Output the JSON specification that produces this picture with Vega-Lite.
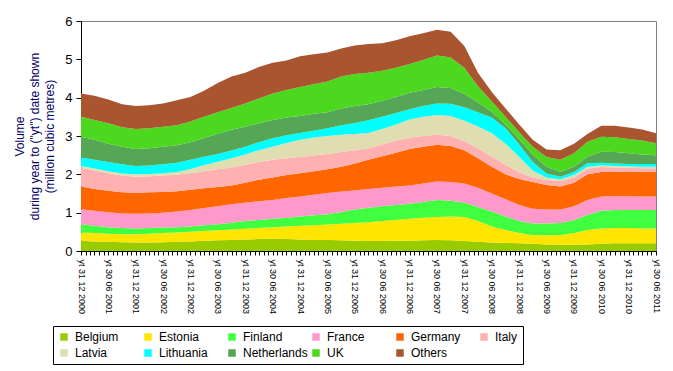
{
"$schema": "https://vega.github.io/schema/vega-lite/v6.json",
"width": 575, "height": 230,
"autosize": {"type": "none"},
"padding": {"left": 81, "top": 21, "right": 17, "bottom": 120},
"background": "white",
"config": {"font": "Liberation Sans", "view": {"stroke": "#808080", "strokeWidth": 1}},
"datasets": {
"order": [{"c":"Belgium","k":1},{"c":"Estonia","k":2},{"c":"Finland","k":3},{"c":"France","k":4},{"c":"Germany","k":5},{"c":"Italy","k":6},{"c":"Latvia","k":7},{"c":"Lithuania","k":8},{"c":"Netherlands","k":9},{"c":"UK","k":10},{"c":"Others","k":11}],
"vol": [
{"d":"2000-12-01","c":"Belgium","v":0.27},{"d":"2000-12-01","c":"Estonia","v":0.21},{"d":"2000-12-01","c":"Finland","v":0.22},{"d":"2000-12-01","c":"France","v":0.39},{"d":"2000-12-01","c":"Germany","v":0.59},{"d":"2000-12-01","c":"Italy","v":0.49},{"d":"2000-12-01","c":"Latvia","v":0.05},{"d":"2000-12-01","c":"Lithuania","v":0.22},{"d":"2000-12-01","c":"Netherlands","v":0.54},{"d":"2000-12-01","c":"UK","v":0.52},{"d":"2000-12-01","c":"Others","v":0.61},
{"d":"2001-03-01","c":"Belgium","v":0.25},{"d":"2001-03-01","c":"Estonia","v":0.22},{"d":"2001-03-01","c":"Finland","v":0.19},{"d":"2001-03-01","c":"France","v":0.39},{"d":"2001-03-01","c":"Germany","v":0.57},{"d":"2001-03-01","c":"Italy","v":0.48},{"d":"2001-03-01","c":"Latvia","v":0.05},{"d":"2001-03-01","c":"Lithuania","v":0.23},{"d":"2001-03-01","c":"Netherlands","v":0.52},{"d":"2001-03-01","c":"UK","v":0.52},{"d":"2001-03-01","c":"Others","v":0.63},
{"d":"2001-06-01","c":"Belgium","v":0.24},{"d":"2001-06-01","c":"Estonia","v":0.21},{"d":"2001-06-01","c":"Finland","v":0.17},{"d":"2001-06-01","c":"France","v":0.39},{"d":"2001-06-01","c":"Germany","v":0.56},{"d":"2001-06-01","c":"Italy","v":0.46},{"d":"2001-06-01","c":"Latvia","v":0.05},{"d":"2001-06-01","c":"Lithuania","v":0.24},{"d":"2001-06-01","c":"Netherlands","v":0.48},{"d":"2001-06-01","c":"UK","v":0.53},{"d":"2001-06-01","c":"Others","v":0.62},
{"d":"2001-09-01","c":"Belgium","v":0.23},{"d":"2001-09-01","c":"Estonia","v":0.21},{"d":"2001-09-01","c":"Finland","v":0.16},{"d":"2001-09-01","c":"France","v":0.38},{"d":"2001-09-01","c":"Germany","v":0.55},{"d":"2001-09-01","c":"Italy","v":0.44},{"d":"2001-09-01","c":"Latvia","v":0.05},{"d":"2001-09-01","c":"Lithuania","v":0.24},{"d":"2001-09-01","c":"Netherlands","v":0.46},{"d":"2001-09-01","c":"UK","v":0.51},{"d":"2001-09-01","c":"Others","v":0.60},
{"d":"2001-12-01","c":"Belgium","v":0.22},{"d":"2001-12-01","c":"Estonia","v":0.22},{"d":"2001-12-01","c":"Finland","v":0.15},{"d":"2001-12-01","c":"France","v":0.38},{"d":"2001-12-01","c":"Germany","v":0.55},{"d":"2001-12-01","c":"Italy","v":0.42},{"d":"2001-12-01","c":"Latvia","v":0.06},{"d":"2001-12-01","c":"Lithuania","v":0.22},{"d":"2001-12-01","c":"Netherlands","v":0.44},{"d":"2001-12-01","c":"UK","v":0.52},{"d":"2001-12-01","c":"Others","v":0.60},
{"d":"2002-03-01","c":"Belgium","v":0.22},{"d":"2002-03-01","c":"Estonia","v":0.23},{"d":"2002-03-01","c":"Finland","v":0.15},{"d":"2002-03-01","c":"France","v":0.38},{"d":"2002-03-01","c":"Germany","v":0.55},{"d":"2002-03-01","c":"Italy","v":0.42},{"d":"2002-03-01","c":"Latvia","v":0.06},{"d":"2002-03-01","c":"Lithuania","v":0.22},{"d":"2002-03-01","c":"Netherlands","v":0.45},{"d":"2002-03-01","c":"UK","v":0.52},{"d":"2002-03-01","c":"Others","v":0.60},
{"d":"2002-06-01","c":"Belgium","v":0.23},{"d":"2002-06-01","c":"Estonia","v":0.24},{"d":"2002-06-01","c":"Finland","v":0.14},{"d":"2002-06-01","c":"France","v":0.39},{"d":"2002-06-01","c":"Germany","v":0.54},{"d":"2002-06-01","c":"Italy","v":0.43},{"d":"2002-06-01","c":"Latvia","v":0.06},{"d":"2002-06-01","c":"Lithuania","v":0.23},{"d":"2002-06-01","c":"Netherlands","v":0.46},{"d":"2002-06-01","c":"UK","v":0.52},{"d":"2002-06-01","c":"Others","v":0.61},
{"d":"2002-09-01","c":"Belgium","v":0.24},{"d":"2002-09-01","c":"Estonia","v":0.24},{"d":"2002-09-01","c":"Finland","v":0.14},{"d":"2002-09-01","c":"France","v":0.41},{"d":"2002-09-01","c":"Germany","v":0.53},{"d":"2002-09-01","c":"Italy","v":0.43},{"d":"2002-09-01","c":"Latvia","v":0.07},{"d":"2002-09-01","c":"Lithuania","v":0.24},{"d":"2002-09-01","c":"Netherlands","v":0.46},{"d":"2002-09-01","c":"UK","v":0.52},{"d":"2002-09-01","c":"Others","v":0.65},
{"d":"2002-12-01","c":"Belgium","v":0.25},{"d":"2002-12-01","c":"Estonia","v":0.25},{"d":"2002-12-01","c":"Finland","v":0.14},{"d":"2002-12-01","c":"France","v":0.43},{"d":"2002-12-01","c":"Germany","v":0.53},{"d":"2002-12-01","c":"Italy","v":0.43},{"d":"2002-12-01","c":"Latvia","v":0.11},{"d":"2002-12-01","c":"Lithuania","v":0.24},{"d":"2002-12-01","c":"Netherlands","v":0.46},{"d":"2002-12-01","c":"UK","v":0.54},{"d":"2002-12-01","c":"Others","v":0.64},
{"d":"2003-03-01","c":"Belgium","v":0.27},{"d":"2003-03-01","c":"Estonia","v":0.25},{"d":"2003-03-01","c":"Finland","v":0.15},{"d":"2003-03-01","c":"France","v":0.45},{"d":"2003-03-01","c":"Germany","v":0.52},{"d":"2003-03-01","c":"Italy","v":0.44},{"d":"2003-03-01","c":"Latvia","v":0.16},{"d":"2003-03-01","c":"Lithuania","v":0.22},{"d":"2003-03-01","c":"Netherlands","v":0.49},{"d":"2003-03-01","c":"UK","v":0.55},{"d":"2003-03-01","c":"Others","v":0.68},
{"d":"2003-06-01","c":"Belgium","v":0.28},{"d":"2003-06-01","c":"Estonia","v":0.26},{"d":"2003-06-01","c":"Finland","v":0.16},{"d":"2003-06-01","c":"France","v":0.47},{"d":"2003-06-01","c":"Germany","v":0.50},{"d":"2003-06-01","c":"Italy","v":0.46},{"d":"2003-06-01","c":"Latvia","v":0.20},{"d":"2003-06-01","c":"Lithuania","v":0.20},{"d":"2003-06-01","c":"Netherlands","v":0.53},{"d":"2003-06-01","c":"UK","v":0.56},{"d":"2003-06-01","c":"Others","v":0.76},
{"d":"2003-09-01","c":"Belgium","v":0.29},{"d":"2003-09-01","c":"Estonia","v":0.27},{"d":"2003-09-01","c":"Finland","v":0.18},{"d":"2003-09-01","c":"France","v":0.48},{"d":"2003-09-01","c":"Germany","v":0.49},{"d":"2003-09-01","c":"Italy","v":0.47},{"d":"2003-09-01","c":"Latvia","v":0.24},{"d":"2003-09-01","c":"Lithuania","v":0.20},{"d":"2003-09-01","c":"Netherlands","v":0.54},{"d":"2003-09-01","c":"UK","v":0.57},{"d":"2003-09-01","c":"Others","v":0.82},
{"d":"2003-12-01","c":"Belgium","v":0.30},{"d":"2003-12-01","c":"Estonia","v":0.28},{"d":"2003-12-01","c":"Finland","v":0.20},{"d":"2003-12-01","c":"France","v":0.48},{"d":"2003-12-01","c":"Germany","v":0.52},{"d":"2003-12-01","c":"Italy","v":0.47},{"d":"2003-12-01","c":"Latvia","v":0.27},{"d":"2003-12-01","c":"Lithuania","v":0.20},{"d":"2003-12-01","c":"Netherlands","v":0.52},{"d":"2003-12-01","c":"UK","v":0.61},{"d":"2003-12-01","c":"Others","v":0.80},
{"d":"2004-03-01","c":"Belgium","v":0.31},{"d":"2004-03-01","c":"Estonia","v":0.29},{"d":"2004-03-01","c":"Finland","v":0.21},{"d":"2004-03-01","c":"France","v":0.49},{"d":"2004-03-01","c":"Germany","v":0.56},{"d":"2004-03-01","c":"Italy","v":0.46},{"d":"2004-03-01","c":"Latvia","v":0.31},{"d":"2004-03-01","c":"Lithuania","v":0.21},{"d":"2004-03-01","c":"Netherlands","v":0.49},{"d":"2004-03-01","c":"UK","v":0.65},{"d":"2004-03-01","c":"Others","v":0.82},
{"d":"2004-06-01","c":"Belgium","v":0.32},{"d":"2004-06-01","c":"Estonia","v":0.30},{"d":"2004-06-01","c":"Finland","v":0.22},{"d":"2004-06-01","c":"France","v":0.49},{"d":"2004-06-01","c":"Germany","v":0.59},{"d":"2004-06-01","c":"Italy","v":0.46},{"d":"2004-06-01","c":"Latvia","v":0.34},{"d":"2004-06-01","c":"Lithuania","v":0.22},{"d":"2004-06-01","c":"Netherlands","v":0.48},{"d":"2004-06-01","c":"UK","v":0.69},{"d":"2004-06-01","c":"Others","v":0.80},
{"d":"2004-09-01","c":"Belgium","v":0.31},{"d":"2004-09-01","c":"Estonia","v":0.33},{"d":"2004-09-01","c":"Finland","v":0.23},{"d":"2004-09-01","c":"France","v":0.51},{"d":"2004-09-01","c":"Germany","v":0.60},{"d":"2004-09-01","c":"Italy","v":0.44},{"d":"2004-09-01","c":"Latvia","v":0.40},{"d":"2004-09-01","c":"Lithuania","v":0.20},{"d":"2004-09-01","c":"Netherlands","v":0.46},{"d":"2004-09-01","c":"UK","v":0.72},{"d":"2004-09-01","c":"Others","v":0.77},
{"d":"2004-12-01","c":"Belgium","v":0.30},{"d":"2004-12-01","c":"Estonia","v":0.36},{"d":"2004-12-01","c":"Finland","v":0.24},{"d":"2004-12-01","c":"France","v":0.52},{"d":"2004-12-01","c":"Germany","v":0.61},{"d":"2004-12-01","c":"Italy","v":0.42},{"d":"2004-12-01","c":"Latvia","v":0.45},{"d":"2004-12-01","c":"Lithuania","v":0.18},{"d":"2004-12-01","c":"Netherlands","v":0.44},{"d":"2004-12-01","c":"UK","v":0.76},{"d":"2004-12-01","c":"Others","v":0.80},
{"d":"2005-03-01","c":"Belgium","v":0.29},{"d":"2005-03-01","c":"Estonia","v":0.38},{"d":"2005-03-01","c":"Finland","v":0.26},{"d":"2005-03-01","c":"France","v":0.54},{"d":"2005-03-01","c":"Germany","v":0.61},{"d":"2005-03-01","c":"Italy","v":0.41},{"d":"2005-03-01","c":"Latvia","v":0.47},{"d":"2005-03-01","c":"Lithuania","v":0.18},{"d":"2005-03-01","c":"Netherlands","v":0.44},{"d":"2005-03-01","c":"UK","v":0.77},{"d":"2005-03-01","c":"Others","v":0.78},
{"d":"2005-06-01","c":"Belgium","v":0.29},{"d":"2005-06-01","c":"Estonia","v":0.40},{"d":"2005-06-01","c":"Finland","v":0.27},{"d":"2005-06-01","c":"France","v":0.55},{"d":"2005-06-01","c":"Germany","v":0.62},{"d":"2005-06-01","c":"Italy","v":0.40},{"d":"2005-06-01","c":"Latvia","v":0.47},{"d":"2005-06-01","c":"Lithuania","v":0.20},{"d":"2005-06-01","c":"Netherlands","v":0.42},{"d":"2005-06-01","c":"UK","v":0.80},{"d":"2005-06-01","c":"Others","v":0.76},
{"d":"2005-09-01","c":"Belgium","v":0.28},{"d":"2005-09-01","c":"Estonia","v":0.43},{"d":"2005-09-01","c":"Finland","v":0.31},{"d":"2005-09-01","c":"France","v":0.53},{"d":"2005-09-01","c":"Germany","v":0.65},{"d":"2005-09-01","c":"Italy","v":0.38},{"d":"2005-09-01","c":"Latvia","v":0.45},{"d":"2005-09-01","c":"Lithuania","v":0.25},{"d":"2005-09-01","c":"Netherlands","v":0.44},{"d":"2005-09-01","c":"UK","v":0.83},{"d":"2005-09-01","c":"Others","v":0.73},
{"d":"2005-12-01","c":"Belgium","v":0.27},{"d":"2005-12-01","c":"Estonia","v":0.46},{"d":"2005-12-01","c":"Finland","v":0.35},{"d":"2005-12-01","c":"France","v":0.50},{"d":"2005-12-01","c":"Germany","v":0.70},{"d":"2005-12-01","c":"Italy","v":0.35},{"d":"2005-12-01","c":"Latvia","v":0.42},{"d":"2005-12-01","c":"Lithuania","v":0.29},{"d":"2005-12-01","c":"Netherlands","v":0.44},{"d":"2005-12-01","c":"UK","v":0.84},{"d":"2005-12-01","c":"Others","v":0.74},
{"d":"2006-03-01","c":"Belgium","v":0.26},{"d":"2006-03-01","c":"Estonia","v":0.49},{"d":"2006-03-01","c":"Finland","v":0.38},{"d":"2006-03-01","c":"France","v":0.49},{"d":"2006-03-01","c":"Germany","v":0.76},{"d":"2006-03-01","c":"Italy","v":0.30},{"d":"2006-03-01","c":"Latvia","v":0.40},{"d":"2006-03-01","c":"Lithuania","v":0.33},{"d":"2006-03-01","c":"Netherlands","v":0.42},{"d":"2006-03-01","c":"UK","v":0.82},{"d":"2006-03-01","c":"Others","v":0.75},
{"d":"2006-06-01","c":"Belgium","v":0.26},{"d":"2006-06-01","c":"Estonia","v":0.52},{"d":"2006-06-01","c":"Finland","v":0.39},{"d":"2006-06-01","c":"France","v":0.48},{"d":"2006-06-01","c":"Germany","v":0.82},{"d":"2006-06-01","c":"Italy","v":0.31},{"d":"2006-06-01","c":"Latvia","v":0.40},{"d":"2006-06-01","c":"Lithuania","v":0.32},{"d":"2006-06-01","c":"Netherlands","v":0.42},{"d":"2006-06-01","c":"UK","v":0.78},{"d":"2006-06-01","c":"Others","v":0.72},
{"d":"2006-09-01","c":"Belgium","v":0.27},{"d":"2006-09-01","c":"Estonia","v":0.54},{"d":"2006-09-01","c":"Finland","v":0.39},{"d":"2006-09-01","c":"France","v":0.48},{"d":"2006-09-01","c":"Germany","v":0.88},{"d":"2006-09-01","c":"Italy","v":0.32},{"d":"2006-09-01","c":"Latvia","v":0.42},{"d":"2006-09-01","c":"Lithuania","v":0.30},{"d":"2006-09-01","c":"Netherlands","v":0.42},{"d":"2006-09-01","c":"UK","v":0.76},{"d":"2006-09-01","c":"Others","v":0.72},
{"d":"2006-12-01","c":"Belgium","v":0.27},{"d":"2006-12-01","c":"Estonia","v":0.57},{"d":"2006-12-01","c":"Finland","v":0.39},{"d":"2006-12-01","c":"France","v":0.48},{"d":"2006-12-01","c":"Germany","v":0.95},{"d":"2006-12-01","c":"Italy","v":0.30},{"d":"2006-12-01","c":"Latvia","v":0.47},{"d":"2006-12-01","c":"Lithuania","v":0.27},{"d":"2006-12-01","c":"Netherlands","v":0.43},{"d":"2006-12-01","c":"UK","v":0.75},{"d":"2006-12-01","c":"Others","v":0.72},
{"d":"2007-03-01","c":"Belgium","v":0.28},{"d":"2007-03-01","c":"Estonia","v":0.59},{"d":"2007-03-01","c":"Finland","v":0.41},{"d":"2007-03-01","c":"France","v":0.48},{"d":"2007-03-01","c":"Germany","v":0.96},{"d":"2007-03-01","c":"Italy","v":0.28},{"d":"2007-03-01","c":"Latvia","v":0.50},{"d":"2007-03-01","c":"Lithuania","v":0.28},{"d":"2007-03-01","c":"Netherlands","v":0.42},{"d":"2007-03-01","c":"UK","v":0.78},{"d":"2007-03-01","c":"Others","v":0.70},
{"d":"2007-06-01","c":"Belgium","v":0.29},{"d":"2007-06-01","c":"Estonia","v":0.60},{"d":"2007-06-01","c":"Finland","v":0.44},{"d":"2007-06-01","c":"France","v":0.48},{"d":"2007-06-01","c":"Germany","v":0.96},{"d":"2007-06-01","c":"Italy","v":0.26},{"d":"2007-06-01","c":"Latvia","v":0.52},{"d":"2007-06-01","c":"Lithuania","v":0.30},{"d":"2007-06-01","c":"Netherlands","v":0.43},{"d":"2007-06-01","c":"UK","v":0.82},{"d":"2007-06-01","c":"Others","v":0.67},
{"d":"2007-09-01","c":"Belgium","v":0.28},{"d":"2007-09-01","c":"Estonia","v":0.62},{"d":"2007-09-01","c":"Finland","v":0.41},{"d":"2007-09-01","c":"France","v":0.49},{"d":"2007-09-01","c":"Germany","v":0.94},{"d":"2007-09-01","c":"Italy","v":0.26},{"d":"2007-09-01","c":"Latvia","v":0.52},{"d":"2007-09-01","c":"Lithuania","v":0.32},{"d":"2007-09-01","c":"Netherlands","v":0.41},{"d":"2007-09-01","c":"UK","v":0.80},{"d":"2007-09-01","c":"Others","v":0.67},
{"d":"2007-12-01","c":"Belgium","v":0.26},{"d":"2007-12-01","c":"Estonia","v":0.63},{"d":"2007-12-01","c":"Finland","v":0.37},{"d":"2007-12-01","c":"France","v":0.50},{"d":"2007-12-01","c":"Germany","v":0.87},{"d":"2007-12-01","c":"Italy","v":0.24},{"d":"2007-12-01","c":"Latvia","v":0.53},{"d":"2007-12-01","c":"Lithuania","v":0.35},{"d":"2007-12-01","c":"Netherlands","v":0.35},{"d":"2007-12-01","c":"UK","v":0.68},{"d":"2007-12-01","c":"Others","v":0.57},
{"d":"2008-03-01","c":"Belgium","v":0.24},{"d":"2008-03-01","c":"Estonia","v":0.54},{"d":"2008-03-01","c":"Finland","v":0.37},{"d":"2008-03-01","c":"France","v":0.50},{"d":"2008-03-01","c":"Germany","v":0.77},{"d":"2008-03-01","c":"Italy","v":0.26},{"d":"2008-03-01","c":"Latvia","v":0.57},{"d":"2008-03-01","c":"Lithuania","v":0.37},{"d":"2008-03-01","c":"Netherlands","v":0.26},{"d":"2008-03-01","c":"UK","v":0.42},{"d":"2008-03-01","c":"Others","v":0.35},
{"d":"2008-06-01","c":"Belgium","v":0.22},{"d":"2008-06-01","c":"Estonia","v":0.42},{"d":"2008-06-01","c":"Finland","v":0.39},{"d":"2008-06-01","c":"France","v":0.47},{"d":"2008-06-01","c":"Germany","v":0.70},{"d":"2008-06-01","c":"Italy","v":0.26},{"d":"2008-06-01","c":"Latvia","v":0.61},{"d":"2008-06-01","c":"Lithuania","v":0.41},{"d":"2008-06-01","c":"Netherlands","v":0.15},{"d":"2008-06-01","c":"UK","v":0.27},{"d":"2008-06-01","c":"Others","v":0.25},
{"d":"2008-09-01","c":"Belgium","v":0.21},{"d":"2008-09-01","c":"Estonia","v":0.34},{"d":"2008-09-01","c":"Finland","v":0.35},{"d":"2008-09-01","c":"France","v":0.45},{"d":"2008-09-01","c":"Germany","v":0.65},{"d":"2008-09-01","c":"Italy","v":0.25},{"d":"2008-09-01","c":"Latvia","v":0.55},{"d":"2008-09-01","c":"Lithuania","v":0.40},{"d":"2008-09-01","c":"Netherlands","v":0.10},{"d":"2008-09-01","c":"UK","v":0.20},{"d":"2008-09-01","c":"Others","v":0.22},
{"d":"2008-12-01","c":"Belgium","v":0.20},{"d":"2008-12-01","c":"Estonia","v":0.27},{"d":"2008-12-01","c":"Finland","v":0.31},{"d":"2008-12-01","c":"France","v":0.42},{"d":"2008-12-01","c":"Germany","v":0.68},{"d":"2008-12-01","c":"Italy","v":0.17},{"d":"2008-12-01","c":"Latvia","v":0.40},{"d":"2008-12-01","c":"Lithuania","v":0.33},{"d":"2008-12-01","c":"Netherlands","v":0.14},{"d":"2008-12-01","c":"UK","v":0.18},{"d":"2008-12-01","c":"Others","v":0.20},
{"d":"2009-03-01","c":"Belgium","v":0.19},{"d":"2009-03-01","c":"Estonia","v":0.23},{"d":"2009-03-01","c":"Finland","v":0.30},{"d":"2009-03-01","c":"France","v":0.38},{"d":"2009-03-01","c":"Germany","v":0.70},{"d":"2009-03-01","c":"Italy","v":0.12},{"d":"2009-03-01","c":"Latvia","v":0.18},{"d":"2009-03-01","c":"Lithuania","v":0.22},{"d":"2009-03-01","c":"Netherlands","v":0.20},{"d":"2009-03-01","c":"UK","v":0.20},{"d":"2009-03-01","c":"Others","v":0.18},
{"d":"2009-06-01","c":"Belgium","v":0.17},{"d":"2009-06-01","c":"Estonia","v":0.24},{"d":"2009-06-01","c":"Finland","v":0.31},{"d":"2009-06-01","c":"France","v":0.36},{"d":"2009-06-01","c":"Germany","v":0.64},{"d":"2009-06-01","c":"Italy","v":0.13},{"d":"2009-06-01","c":"Latvia","v":0.07},{"d":"2009-06-01","c":"Lithuania","v":0.10},{"d":"2009-06-01","c":"Netherlands","v":0.18},{"d":"2009-06-01","c":"UK","v":0.25},{"d":"2009-06-01","c":"Others","v":0.20},
{"d":"2009-09-01","c":"Belgium","v":0.16},{"d":"2009-09-01","c":"Estonia","v":0.26},{"d":"2009-09-01","c":"Finland","v":0.31},{"d":"2009-09-01","c":"France","v":0.35},{"d":"2009-09-01","c":"Germany","v":0.60},{"d":"2009-09-01","c":"Italy","v":0.14},{"d":"2009-09-01","c":"Latvia","v":0.05},{"d":"2009-09-01","c":"Lithuania","v":0.07},{"d":"2009-09-01","c":"Netherlands","v":0.13},{"d":"2009-09-01","c":"UK","v":0.31},{"d":"2009-09-01","c":"Others","v":0.25},
{"d":"2009-12-01","c":"Belgium","v":0.16},{"d":"2009-12-01","c":"Estonia","v":0.30},{"d":"2009-12-01","c":"Finland","v":0.34},{"d":"2009-12-01","c":"France","v":0.37},{"d":"2009-12-01","c":"Germany","v":0.61},{"d":"2009-12-01","c":"Italy","v":0.14},{"d":"2009-12-01","c":"Latvia","v":0.06},{"d":"2009-12-01","c":"Lithuania","v":0.08},{"d":"2009-12-01","c":"Netherlands","v":0.14},{"d":"2009-12-01","c":"UK","v":0.35},{"d":"2009-12-01","c":"Others","v":0.25},
{"d":"2010-03-01","c":"Belgium","v":0.17},{"d":"2010-03-01","c":"Estonia","v":0.38},{"d":"2010-03-01","c":"Finland","v":0.39},{"d":"2010-03-01","c":"France","v":0.39},{"d":"2010-03-01","c":"Germany","v":0.67},{"d":"2010-03-01","c":"Italy","v":0.15},{"d":"2010-03-01","c":"Latvia","v":0.05},{"d":"2010-03-01","c":"Lithuania","v":0.09},{"d":"2010-03-01","c":"Netherlands","v":0.17},{"d":"2010-03-01","c":"UK","v":0.39},{"d":"2010-03-01","c":"Others","v":0.20},
{"d":"2010-06-01","c":"Belgium","v":0.19},{"d":"2010-06-01","c":"Estonia","v":0.40},{"d":"2010-06-01","c":"Finland","v":0.46},{"d":"2010-06-01","c":"France","v":0.37},{"d":"2010-06-01","c":"Germany","v":0.64},{"d":"2010-06-01","c":"Italy","v":0.13},{"d":"2010-06-01","c":"Latvia","v":0.05},{"d":"2010-06-01","c":"Lithuania","v":0.06},{"d":"2010-06-01","c":"Netherlands","v":0.29},{"d":"2010-06-01","c":"UK","v":0.39},{"d":"2010-06-01","c":"Others","v":0.29},
{"d":"2010-09-01","c":"Belgium","v":0.20},{"d":"2010-09-01","c":"Estonia","v":0.40},{"d":"2010-09-01","c":"Finland","v":0.47},{"d":"2010-09-01","c":"France","v":0.36},{"d":"2010-09-01","c":"Germany","v":0.63},{"d":"2010-09-01","c":"Italy","v":0.12},{"d":"2010-09-01","c":"Latvia","v":0.04},{"d":"2010-09-01","c":"Lithuania","v":0.06},{"d":"2010-09-01","c":"Netherlands","v":0.30},{"d":"2010-09-01","c":"UK","v":0.39},{"d":"2010-09-01","c":"Others","v":0.30},
{"d":"2010-12-01","c":"Belgium","v":0.20},{"d":"2010-12-01","c":"Estonia","v":0.40},{"d":"2010-12-01","c":"Finland","v":0.47},{"d":"2010-12-01","c":"France","v":0.36},{"d":"2010-12-01","c":"Germany","v":0.63},{"d":"2010-12-01","c":"Italy","v":0.11},{"d":"2010-12-01","c":"Latvia","v":0.04},{"d":"2010-12-01","c":"Lithuania","v":0.06},{"d":"2010-12-01","c":"Netherlands","v":0.28},{"d":"2010-12-01","c":"UK","v":0.37},{"d":"2010-12-01","c":"Others","v":0.30},
{"d":"2011-03-01","c":"Belgium","v":0.20},{"d":"2011-03-01","c":"Estonia","v":0.39},{"d":"2011-03-01","c":"Finland","v":0.48},{"d":"2011-03-01","c":"France","v":0.35},{"d":"2011-03-01","c":"Germany","v":0.64},{"d":"2011-03-01","c":"Italy","v":0.10},{"d":"2011-03-01","c":"Latvia","v":0.04},{"d":"2011-03-01","c":"Lithuania","v":0.07},{"d":"2011-03-01","c":"Netherlands","v":0.25},{"d":"2011-03-01","c":"UK","v":0.36},{"d":"2011-03-01","c":"Others","v":0.29},
{"d":"2011-06-01","c":"Belgium","v":0.20},{"d":"2011-06-01","c":"Estonia","v":0.39},{"d":"2011-06-01","c":"Finland","v":0.48},{"d":"2011-06-01","c":"France","v":0.35},{"d":"2011-06-01","c":"Germany","v":0.64},{"d":"2011-06-01","c":"Italy","v":0.10},{"d":"2011-06-01","c":"Latvia","v":0.04},{"d":"2011-06-01","c":"Lithuania","v":0.07},{"d":"2011-06-01","c":"Netherlands","v":0.23},{"d":"2011-06-01","c":"UK","v":0.31},{"d":"2011-06-01","c":"Others","v":0.26}
]},
"data": {"name": "vol"},
"transform": [{"lookup": "c", "from": {"data": {"name": "order"}, "key": "c", "fields": ["k"]}}],
"mark": {"type": "area", "interpolate": "linear", "opacity": 1},
"encoding": {
  "x": {"field": "d", "type": "temporal",
    "scale": {"type": "utc", "nice": false, "padding": 0},
    "axis": {"title": null, "grid": false, "tickCount": {"interval": "month", "step": 1},
      "labelExpr": "utcFormat(datum.value, '%m') == '06' ? 'yt 30 06 ' + utcFormat(datum.value, '%Y') : (utcFormat(datum.value, '%m') == '12' ? 'yt 31 12 ' + utcFormat(datum.value, '%Y') : '')",
      "labelAngle": 90, "labelAlign": "left", "labelBaseline": "middle", "labelFontSize": 9,
      "labelOverlap": false, "labelFlush": false, "labelBound": false, "labelPadding": 4,
      "labelColor": "black", "tickSize": 4, "tickColor": "black", "domainColor": "black", "domainWidth": 1}},
  "y": {"field": "v", "type": "quantitative", "stack": "zero",
    "scale": {"domain": [0, 6], "nice": false},
    "axis": {"values": [0, 1, 2, 3, 4, 5, 6], "grid": false, "tickSize": 5, "labelPadding": 4, "labelFontSize": 13,
      "labelColor": "black", "tickColor": "black", "domainColor": "black",
      "title": ["Volume", "during year to (\"yt\") date shown", "(million cubic metres)"],
      "titleFontSize": 12, "titleFontWeight": "normal", "titleColor": "#000066", "titleAngle": -90,
      "titleX": -67, "titleY": 115, "titleAlign": "center", "titleBaseline": "top", "titleLineHeight": 15}},
  "order": {"field": "k", "type": "quantitative", "sort": "ascending"},
  "color": {"field": "c", "type": "nominal",
    "sort": ["Belgium", "Estonia", "Finland", "France", "Germany", "Italy", "Latvia", "Lithuania", "Netherlands", "UK", "Others"],
    "scale": {"domain": ["Belgium", "Estonia", "Finland", "France", "Germany", "Italy", "Latvia", "Lithuania", "Netherlands", "UK", "Others"],
      "range": ["#99CC00", "#FFE500", "#40FF40", "#FF99CC", "#FF6600", "#FFB0B0", "#E0DEB0", "#00FFFF", "#55A655", "#4CD81E", "#A85530"]},
    "legend": {"title": null, "orient": "none", "legendX": -28, "legendY": 305, "direction": "horizontal", "columns": 6,
      "symbolType": "square", "symbolSize": 56, "symbolStrokeWidth": 0, "symbolOpacity": 1,
      "labelFontSize": 12, "labelOffset": 5, "labelColor": "black", "columnPadding": 2, "rowPadding": 4,
      "padding": 5, "strokeColor": "black", "gridAlign": "all"}}
}
}
